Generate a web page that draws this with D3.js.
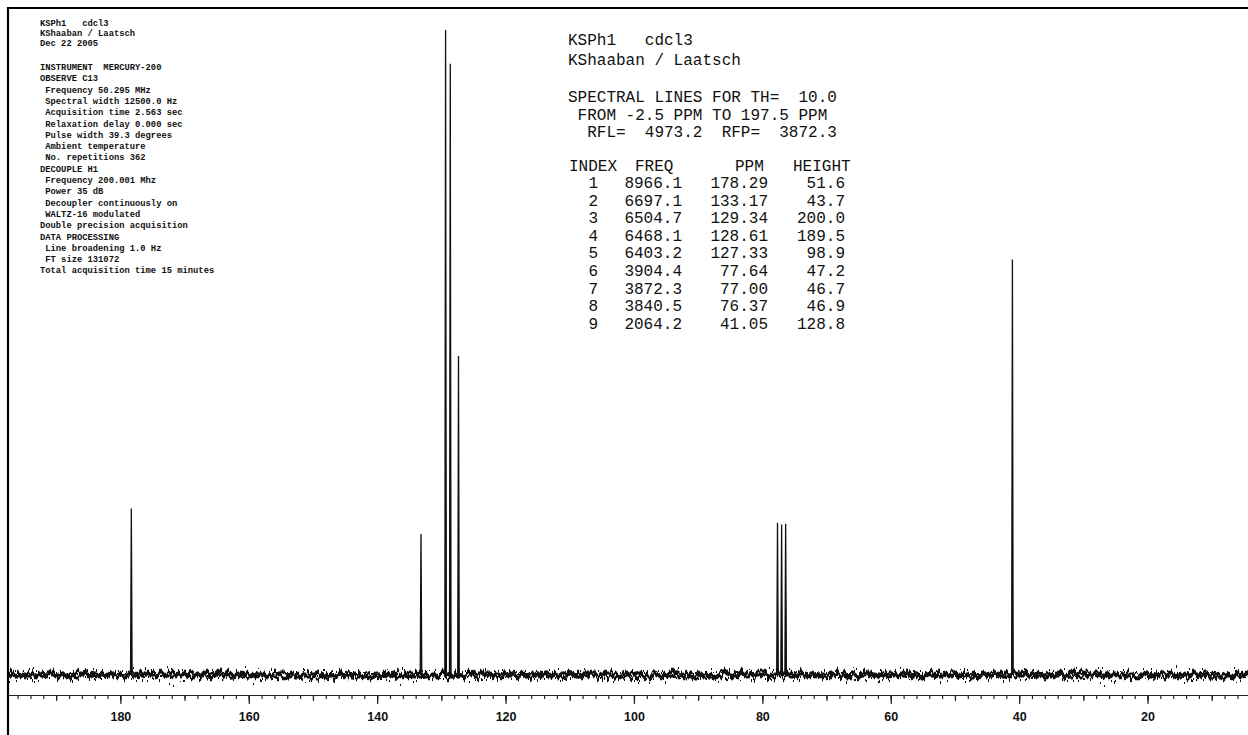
<!DOCTYPE html>
<html>
<head>
<meta charset="utf-8">
<title>KSPh1 cdcl3 - 13C spectrum</title>
<script src="https://cdn.jsdelivr.net/npm/d3@7"></script>
<style>
  body { margin: 0; background: #fff; }
  svg text { white-space: pre; }
</style>
</head>
<body>
<script>
// peak list as printed on the plot
var peakIndex  = [1, 2, 3, 4, 5, 6, 7, 8, 9];
var peakFreq   = [8966.1, 6697.1, 6504.7, 6468.1, 6403.2, 3904.4, 3872.3, 3840.5, 2064.2];
var peakPpm    = [178.29, 133.17, 129.34, 128.61, 127.33, 77.64, 77.00, 76.37, 41.05];
var peakHeight = [51.6, 43.7, 200.0, 189.5, 98.9, 47.2, 46.7, 46.9, 128.8];

// axis
var ppmRange   = [197.5, -2.5];
var axisLabels = [180, 160, 140, 120, 100, 80, 60, 40, 20];

// acquisition parameters (top left)
var paramLines = [
  "KSPh1   cdcl3",
  "KShaaban / Laatsch",
  "Dec 22 2005",
  "INSTRUMENT  MERCURY-200",
  "OBSERVE C13",
  " Frequency 50.295 MHz",
  " Spectral width 12500.0 Hz",
  " Acquisition time 2.563 sec",
  " Relaxation delay 0.000 sec",
  " Pulse width 39.3 degrees",
  " Ambient temperature",
  " No. repetitions 362",
  "DECOUPLE H1",
  " Frequency 200.001 Mhz",
  " Power 35 dB",
  " Decoupler continuously on",
  " WALTZ-16 modulated",
  "Double precision acquisition",
  "DATA PROCESSING",
  " Line broadening 1.0 Hz",
  " FT size 131072",
  "Total acquisition time 15 minutes"
];

// header of the peak table
var headLines = [
  "KSPh1   cdcl3",
  "KShaaban / Laatsch",
  "SPECTRAL LINES FOR TH=  10.0",
  " FROM -2.5 PPM TO 197.5 PPM",
  "  RFL=  4973.2  RFP=  3872.3"
];
var tableCols = ["INDEX", "FREQ", "PPM", "HEIGHT"];

var width = 1248, height = 735;

var svg = d3.select("body").append("svg")
    .attr("width", width)
    .attr("height", height);

var x = d3.scaleLinear().domain(ppmRange).range([8, 1292]);
var y = d3.scaleLinear().domain([0, 200]).range([675, 30]);

// baseline noise is only a texture: a turbulence filter shakes a flat line
var defs = svg.append("defs");
function noiseFilter(id, freq, seed, amount) {
    var f = defs.append("filter")
        .attr("id", id)
        .attr("filterUnits", "userSpaceOnUse")
        .attr("x", 0).attr("y", 640).attr("width", 1300).attr("height", 70)
        .attr("color-interpolation-filters", "sRGB");
    f.append("feTurbulence")
        .attr("type", "fractalNoise")
        .attr("baseFrequency", freq)
        .attr("numOctaves", 2)
        .attr("seed", seed)
        .attr("result", "turb");
    f.append("feColorMatrix")
        .attr("in", "turb")
        .attr("type", "matrix")
        .attr("values", "0 0 0 0 0.5  0 1 0 0 0  0 0 0 0 0  0 0 0 0 1")
        .attr("result", "map");
    f.append("feDisplacementMap")
        .attr("in", "SourceGraphic")
        .attr("in2", "map")
        .attr("scale", amount)
        .attr("xChannelSelector", "R")
        .attr("yChannelSelector", "G");
}
noiseFilter("noiseA", "0.3 0.01", 7, 18);
noiseFilter("noiseB", "0.55 0.015", 19, 28);
noiseFilter("noiseC", "0.2 0.01", 31, 14);

[["noiseA", 4.5], ["noiseB", 2.2], ["noiseC", 3]].forEach(function (n) {
    svg.append("line")
        .attr("x1", x(ppmRange[0])).attr("x2", x(ppmRange[1]))
        .attr("y1", y(0)).attr("y2", y(0))
        .attr("stroke", "#111")
        .attr("stroke-width", n[1])
        .attr("filter", "url(#" + n[0] + ")");
});

// peaks
var peaks = peakPpm.map(function (p, i) { return { ppm: p, h: peakHeight[i] }; });
var peakLine = d3.line()
    .x(function (d) { return x(d[0]); })
    .y(function (d) { return y(d[1]); });

svg.selectAll("path.peak")
    .data(peaks)
    .enter()
    .append("path")
    .attr("class", "peak")
    .attr("d", function (d) {
        return peakLine([[d.ppm + 0.12, 0], [d.ppm, d.h], [d.ppm - 0.12, 0]]);
    })
    .attr("fill", "#111")
    .attr("stroke", "#111")
    .attr("stroke-width", 1.3);

// ppm axis: minor every 2, medium every 10, labelled every 20
var axisY = 695;
var minor = svg.append("g").attr("transform", "translate(0," + axisY + ")")
    .call(d3.axisBottom(x).tickValues(d3.range(196, -3, -2)).tickSize(4).tickSizeOuter(0).tickFormat(""));
var medium = svg.append("g").attr("transform", "translate(0," + axisY + ")")
    .call(d3.axisBottom(x).tickValues(d3.range(190, -3, -10)).tickSize(6).tickSizeOuter(0).tickFormat(""));
var major = svg.append("g").attr("transform", "translate(0," + axisY + ")")
    .call(d3.axisBottom(x).tickValues(axisLabels).tickSize(9).tickSizeOuter(0).tickPadding(8));
medium.select(".domain").remove();
major.select(".domain").remove();
svg.selectAll(".tick line").attr("stroke", "#222").attr("stroke-width", 1.2);
minor.select(".domain").attr("stroke", "#222").attr("stroke-width", 1.2);
major.selectAll("text")
    .attr("fill", "#111")
    .style("font-family", "'Liberation Sans', Arial, sans-serif")
    .style("font-weight", "bold")
    .style("font-size", "12.5px");

// frame (left and top edges of the scanned sheet)
svg.append("line").attr("x1", 8).attr("x2", 8).attr("y1", 7).attr("y2", height)
    .attr("stroke", "#000").attr("stroke-width", 2.2);
svg.append("line").attr("x1", 7).attr("x2", width).attr("y1", 8).attr("y2", 8)
    .attr("stroke", "#000").attr("stroke-width", 2.2);

// parameter block
var paramY = [26, 36, 46];
for (var i = 3; i < paramLines.length; i++) paramY.push(70 + (i - 3) * 11.3);
svg.append("g").selectAll("text")
    .data(paramLines)
    .enter()
    .append("text")
    .attr("x", 40)
    .attr("y", function (d, i) { return paramY[i]; })
    .attr("fill", "#111")
    .style("font-family", "'Liberation Mono', 'Courier New', monospace")
    .style("font-weight", "bold")
    .style("font-size", "8.8px")
    .text(function (d) { return d; });

// peak table
var mono = "'Liberation Mono', 'Courier New', monospace";
var headY = [45, 65, 102, 120, 137];
svg.append("g").selectAll("text")
    .data(headLines)
    .enter()
    .append("text")
    .attr("x", 568)
    .attr("y", function (d, i) { return headY[i]; })
    .attr("fill", "#111")
    .style("font-family", mono)
    .style("font-size", "16px")
    .text(function (d) { return d; });

var colStart = [569, 635, 735, 793];
svg.append("g").selectAll("text")
    .data(tableCols)
    .enter()
    .append("text")
    .attr("x", function (d, i) { return colStart[i]; })
    .attr("y", 171)
    .attr("fill", "#111")
    .style("font-family", mono)
    .style("font-size", "16px")
    .text(function (d) { return d; });

var colEnd = [598, 682, 768, 845];
var rows = peakIndex.map(function (n, i) {
    return [String(n), peakFreq[i].toFixed(1), peakPpm[i].toFixed(2), peakHeight[i].toFixed(1)];
});
var rowG = svg.append("g").selectAll("g")
    .data(rows)
    .enter()
    .append("g")
    .attr("transform", function (d, i) { return "translate(0," + (188 + i * 17.6) + ")"; });
rowG.selectAll("text")
    .data(function (d) { return d; })
    .enter()
    .append("text")
    .attr("x", function (d, i) { return colEnd[i]; })
    .attr("text-anchor", "end")
    .attr("fill", "#111")
    .style("font-family", mono)
    .style("font-size", "16px")
    .text(function (d) { return d; });
</script>
</body>
</html>
